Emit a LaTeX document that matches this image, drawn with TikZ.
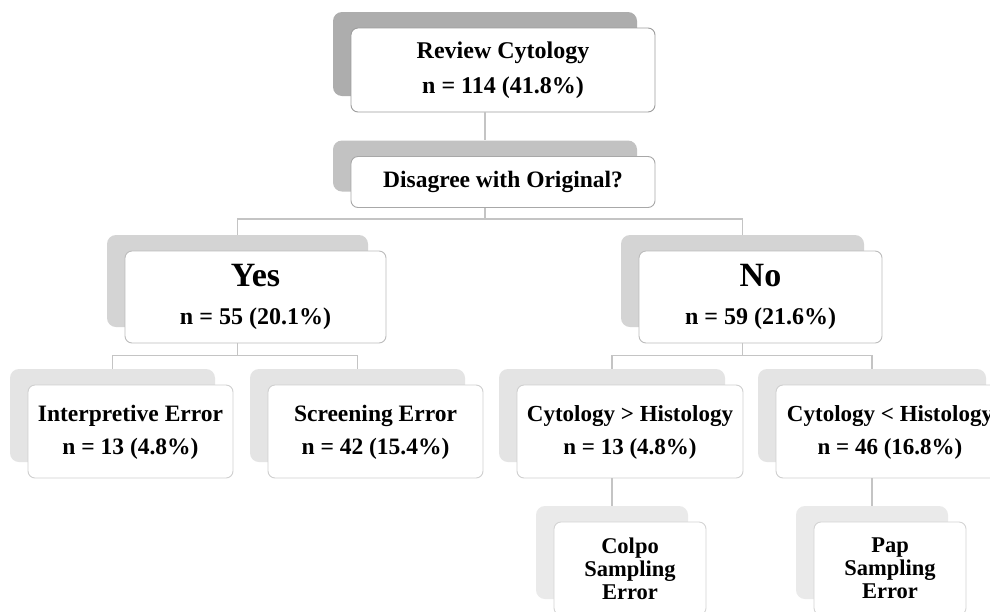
\documentclass[tikz,border=0pt]{standalone}
\usepackage{fontspec}
\setmainfont{Liberation Serif}
\definecolor{shadeA}{HTML}{ADADAD}
\definecolor{shadeB}{HTML}{C2C2C2}
\definecolor{shadeC}{HTML}{D4D4D4}
\definecolor{shadeD}{HTML}{E4E4E4}
\definecolor{shadeE}{HTML}{EAEAEA}
\definecolor{edgeA}{HTML}{9C9C9C}
\definecolor{edgeB}{HTML}{A8A8A8}
\definecolor{edgeC}{HTML}{BCBCBC}
\definecolor{edgeD}{HTML}{CFCFCF}
\definecolor{edgeE}{HTML}{D4D4D4}
\definecolor{linkgray}{HTML}{C4C4C4}

\tikzset{
  ghost/.style={fill=#1, rounded corners=9pt, inner sep=0pt},
  card/.style={draw=#1, fill=white, rounded corners=7pt, line width=0.9pt, align=center, inner sep=0pt},
  link/.style={draw=linkgray, line width=1.3pt},
  boxtop/.style={minimum width=304pt, minimum height=84pt},
  boxask/.style={minimum width=304pt, minimum height=51pt},
  boxyes/.style={minimum width=261pt, minimum height=92pt},
  boxno/.style={minimum width=243pt, minimum height=92pt},
  boxmid/.style={minimum width=#1, minimum height=93pt, text depth=3pt},
  boxend/.style={minimum width=152pt, minimum height=93pt}
}

\begin{document}
\begin{tikzpicture}[x=1pt,y=-1pt]
\clip (0,0) rectangle (990,611);
\fill[white] (0,0) rectangle (990,611);

%% Level 1
\node[ghost=shadeA, boxtop] (reviewback) at (485,54) {};
\node[card=edgeA, boxtop, font=\fontsize{24}{35}\selectfont\bfseries] (review) at ([shift={(18,16)}]reviewback.center) {Review Cytology\\n = 114 (41.8\%)};

%% Level 2
\node[ghost=shadeB, boxask] (askback) at (485,166) {};
\node[card=edgeB, boxask, font=\fontsize{23.5}{27}\selectfont\bfseries] (ask) at ([shift={(18,16)}]askback.center) {Disagree with Original?};

%% Yes / No
\node[ghost=shadeC, boxyes] (yesback) at (237.5,281) {};
\node[card=edgeC, boxyes, font=\fontsize{24}{38}\selectfont\bfseries] (yes) at ([shift={(18,16)}]yesback.center) {{\fontsize{34}{38}\selectfont Yes}\\n = 55 (20.1\%)};
\node[ghost=shadeC, boxno] (noback) at (742.5,281) {};
\node[card=edgeC, boxno, font=\fontsize{24}{38}\selectfont\bfseries] (no) at ([shift={(18,16)}]noback.center) {{\fontsize{34}{38}\selectfont No}\\n = 59 (21.6\%)};

%% Level 3
\node[ghost=shadeD, boxmid=205pt] (interpback) at (112.5,415.5) {};
\node[card=edgeD, boxmid=205pt, font=\fontsize{23.5}{33}\selectfont\bfseries] (interp) at ([shift={(18,16)}]interpback.center) {Interpretive Error\\n = 13 (4.8\%)};
\node[ghost=shadeD, boxmid=215pt] (screenback) at (357.5,415.5) {};
\node[card=edgeD, boxmid=215pt, font=\fontsize{23.5}{33}\selectfont\bfseries] (screen) at ([shift={(18,16)}]screenback.center) {Screening Error\\n = 42 (15.4\%)};
\node[ghost=shadeD, boxmid=226pt] (cytgtback) at (612,415.5) {};
\node[card=edgeD, boxmid=226pt, font=\fontsize{23}{33}\selectfont\bfseries] (cytgt) at ([shift={(18,16)}]cytgtback.center) {Cytology > Histology\\n = 13 (4.8\%)};
\node[ghost=shadeD, boxmid=228pt] (cytltback) at (872,415.5) {};
\node[card=edgeD, boxmid=228pt, font=\fontsize{23}{33}\selectfont\bfseries] (cytlt) at ([shift={(18,16)}]cytltback.center) {Cytology < Histology\\n = 46 (16.8\%)};

%% Level 4
\node[ghost=shadeE, boxend] (colpoback) at (612,552.5) {};
\node[card=edgeE, boxend, font=\fontsize{22.5}{23}\selectfont\bfseries] (colpo) at ([shift={(18,16)}]colpoback.center) {Colpo\\Sampling\\Error};
\node[ghost=shadeE, boxend] (papback) at (872,552.5) {};
\node[card=edgeE, boxend, font=\fontsize{22.5}{23}\selectfont\bfseries] (pap) at ([shift={(18,16)}]papback.center) {Pap\\Sampling\\Error};

%% Connectors
\draw[link] (reviewback.center |- review.south) -- (askback.north);
\draw[link] (askback.center |- ask.south) -- ++(0,11) -| (yesback.north);
\draw[link] (askback.center |- ask.south) -- ++(0,11) -| (noback.north);
\draw[link] (yesback.center |- yes.south) -- ++(0,12) -| (interpback.north);
\draw[link] (yesback.center |- yes.south) -- ++(0,12) -| (screenback.north);
\draw[link] (noback.center |- no.south) -- ++(0,12) -| (cytgtback.north);
\draw[link] (noback.center |- no.south) -- ++(0,12) -| (cytltback.north);
\draw[link] (cytgtback.center |- cytgt.south) -- (colpoback.north);
\draw[link] (cytltback.center |- cytlt.south) -- (papback.north);
\end{tikzpicture}
\end{document}
